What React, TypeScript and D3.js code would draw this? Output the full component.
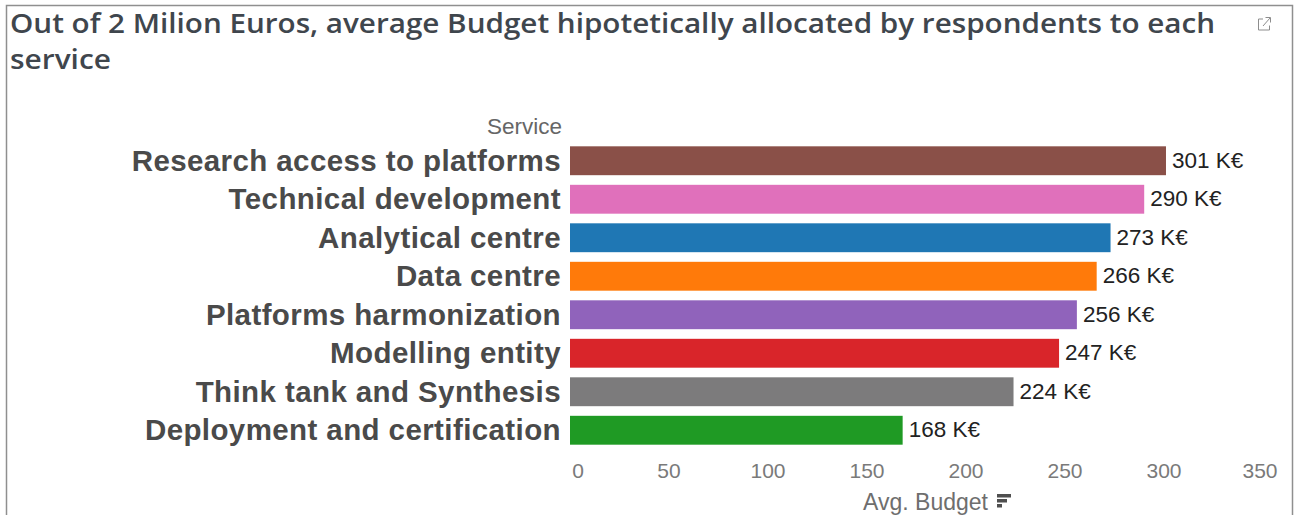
import React from 'react';
import * as d3 from 'd3';

const WIDTH = 1300;
const HEIGHT = 515;

const services = [
  'Research access to platforms',
  'Technical development',
  'Analytical centre',
  'Data centre',
  'Platforms harmonization',
  'Modelling entity',
  'Think tank and Synthesis',
  'Deployment and certification',
];
const avgBudget = [301, 290, 273, 266, 256, 247, 224, 168];
const barColors = ['#8a5048', '#e070bb', '#1f77b4', '#ff7a0a', '#9063bb', '#d9252a', '#7c7b7c', '#1f9a24'];
const axisTicks = [0, 50, 100, 150, 200, 250, 300, 350];
const titleLines = [
  'Out of 2 Milion Euros, average Budget hipotetically allocated by respondents to each',
  'service',
];

const x = d3.scaleLinear().domain([0, 350]).range([570, 1263]);
const y = d3.scaleBand<string>().domain(services).range([141.5, 449.5]).paddingInner(0.25).paddingOuter(0.125);

const LABEL_FONT = '"Liberation Sans", Arial, sans-serif';

// The outer ticks are nudged inward so their labels stay inside the plot.
const tickShift = (t: number) => (t === 0 ? 8 : t === 350 ? -3 : 0);

export default function App() {
  return (
    <svg
      width={WIDTH}
      height={HEIGHT}
      viewBox={`0 0 ${WIDTH} ${HEIGHT}`}
      style={{ position: 'absolute', left: 0, top: 0, display: 'block', background: '#fff' }}
    >
      {/* worksheet frame, open at the bottom edge */}
      <path d="M6.5 515V5.5H1292.5V515" fill="none" stroke="#8f8f8f" strokeWidth={1.5} />

      {titleLines.map((line, i) => (
        <text
          key={line}
          x={10}
          y={33 + i * 36}
          fontFamily='"Open Sans", sans-serif'
          fontWeight={600}
          fontSize={27}
          fill="#3f464d"
          textLength={i === 0 ? 1205 : 101}
          lengthAdjust="spacingAndGlyphs"
        >
          {line}
        </text>
      ))}

      {/* open-in-new-window glyph */}
      <g fill="none" stroke="#8d8d8d" strokeWidth={1}>
        <path d="M1263 19h-4.5v11h11v-4.5" />
        <path d="M1263 26l7-8M1265.5 17.5h5v5" />
      </g>

      <text x={562} y={134} textAnchor="end" fontFamily={LABEL_FONT} fontSize={22.5} fill="#666">
        Service
      </text>

      {services.map((s, i) => {
        const cy = y(s)! + y.bandwidth() / 2;
        return (
          <g key={s}>
            <text
              x={561}
              y={cy}
              dy="0.34em"
              textAnchor="end"
              fontFamily={LABEL_FONT}
              fontWeight={700}
              fontSize={29.5}
              letterSpacing={0.4}
              fill="#4a4a4a"
            >
              {s}
            </text>
            <rect x={x(0)} y={y(s)!} width={x(avgBudget[i]) - x(0)} height={y.bandwidth()} fill={barColors[i]} />
            <text
              x={x(avgBudget[i]) + 6}
              y={cy}
              dy="0.3em"
              fontFamily={LABEL_FONT}
              fontSize={22.5}
              fill="#222"
            >
              {avgBudget[i]} K€
            </text>
          </g>
        );
      })}

      {axisTicks.map((t) => (
        <text
          key={t}
          x={x(t) + tickShift(t)}
          y={478}
          textAnchor="middle"
          fontFamily={LABEL_FONT}
          fontSize={21}
          fill="#7a7a7a"
        >
          {t}
        </text>
      ))}

      <text x={988} y={510} textAnchor="end" fontFamily={LABEL_FONT} fontSize={23} fill="#6e6e6e">
        Avg. Budget
      </text>

      {/* descending-sort indicator beside the axis title */}
      <g fill="#4f4f4f">
        <rect x={997} y={494} width={14} height={3.5} />
        <rect x={997} y={499} width={10} height={3.5} />
        <rect x={997} y={504} width={5} height={3.5} />
      </g>
    </svg>
  );
}
